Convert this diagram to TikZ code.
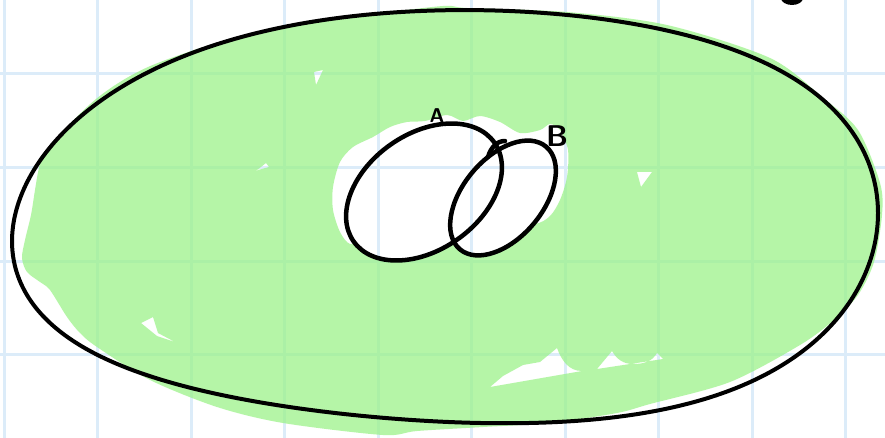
\documentclass[tikz,border=0pt]{standalone}
\usepackage{fontspec}
\definecolor{gridblue}{RGB}{220,236,249}
\definecolor{hlgreen}{RGB}{151,242,131}
\tikzset{
  gridline/.style={gridblue, line width=3pt},
  outline/.style={black, line width=4pt, line join=round, line cap=round},
  setline/.style={black, line width=4.5pt, line join=round, line cap=round},
  setlabel/.style={inner sep=0pt, text=black},
  ellA/.style={rotate around={35:(424,192)}},
  ellB/.style={rotate around={50:(503,198)}},
}
\begin{document}
\begin{tikzpicture}[x=1pt,y=-1pt]
\useasboundingbox (0,0) rectangle (885,438);
\clip (0,0) rectangle (885,438);
\fill[white] (0,0) rectangle (885,438);
% grid
\foreach \gx in {4,97.5,191,284.5,378,471,565,658.5,752,845.5}
  \draw[gridline] (\gx,0) -- (\gx,438);
\foreach \gy in {74,167.5,261,354.5}
  \draw[gridline] (0,\gy) -- (885,\gy);
% green highlight outside A and B
\begin{scope}[even odd rule]
  \clip (-700,-700) rectangle (1600,1100)
    plot[domain=0:360, samples=121, variable=\t] ({424+70.45*cos(\t)+33.27*sin(\t)}, {192-49.33*cos(\t)+47.51*sin(\t)}) -- cycle;
  \clip (-700,-700) rectangle (1600,1100)
    plot[domain=0:360, samples=121, variable=\t] ({503+43.07*cos(\t)+30.64*sin(\t)}, {198-51.32*cos(\t)+25.71*sin(\t)}) -- cycle;
  \fill[hlgreen, opacity=0.7]
    plot[smooth cycle] coordinates {(46,150) (96,99) (148,67) (233,38) (300,25) (367,15) (443,6) (467,8) (567,12) (667,25) (770,58) (822,97) (858,130) (880,183) (882,215) (874,262) (858,295) (834,320) (800,345) (730,382) (650,404) (617,413) (550,423) (483,427) (417,431) (383,435) (283,423) (217,407) (150,380) (97,347) (80,333) (67,317) (50,290) (40,282) (27,272) (22,258) (25,240) (31,215) (35,190) (39,168)}
    plot[smooth cycle] coordinates {(365,240) (350,244) (340,232) (333,210) (333,187) (340,162) (353,147) (373,137) (390,127) (407,122) (425,121) (447,115) (463,121) (480,116) (500,122) (520,133) (540,130) (550,124) (560,130) (568,150) (567,177) (560,200) (550,216) (535,224) (500,225) (450,230) (410,240)}
    (490,387) -- (503,376) -- (523,365) -- (540,362) -- (557,348) to[out=-70,in=180] (582,371) -- cycle
    (597,369) -- (612,351) to[out=-60,in=180] (633,364) to[out=0,in=-120] (657,353) -- (663,359) -- cycle
    (314,72) -- (323,70) -- (316,85) -- cycle
    (252,174) -- (266,163) -- (269,167) -- (258,170) -- cycle
    (141,323) -- (153,317) -- (158,333) -- (175,342) -- (157,336) -- cycle
    (637,172) -- (652,172) -- (641,187) -- cycle;
\end{scope}
% universe outline
\draw[outline] plot[domain=0:360, samples=240, smooth, variable=\t]
  ({445+433*cos(\t)}, {219.75-210.8*sin(\t)-12*cos(\t)+4.5*cos(2*\t)-5.5*sin(2*\t)-5*cos(3*\t)-5.8*sin(3*\t)+9*((1+cos(\t-330))/2)^6}) -- cycle;
% sets A and B
\draw[setline, ellA] (424,192) ellipse [x radius=86pt, y radius=58pt];
\draw[setline, ellB] (503,198) ellipse [x radius=67pt, y radius=40pt];
\draw[setline] (488,157) .. controls (491,147) and (497,141) .. (505,141);
% labels
\node[setlabel, font=\sffamily\bfseries\fontsize{20}{20}\selectfont] (labA) at (437,116) {A};
\node[setlabel, font=\sffamily\bfseries\fontsize{30}{30}\selectfont] (labB) at (557,136) {B};
% mark at top right
\fill (792,-2) ellipse [x radius=11pt, y radius=7pt];
\end{tikzpicture}
\end{document}
